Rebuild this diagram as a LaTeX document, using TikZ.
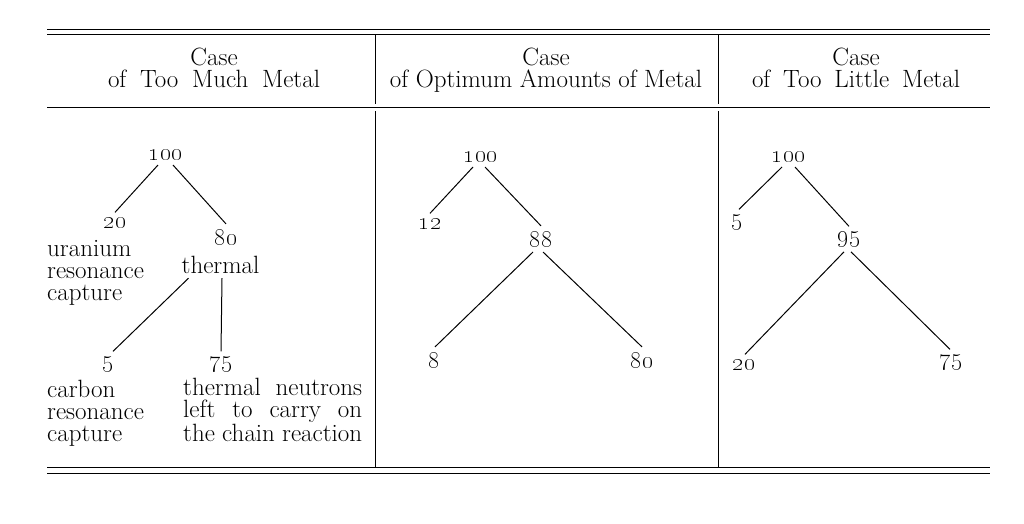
\documentclass[tikz,border=0pt]{standalone}
\begin{document}
\begin{tikzpicture}[x=1pt,y=-1pt,
		txt/.style={font=\fontsize{25}{22}\selectfont, inner sep=0pt},
		num/.style={font=\fontsize{24.88}{22}\selectfont, inner sep=0pt, anchor=base, outer sep=5pt},
		lbl/.style={txt, anchor=base west, align=left},
		head/.style={txt, anchor=base, align=center},
		rule/.style={line width=1pt},
		branch/.style={line width=1pt}]
		\useasboundingbox (0,0) rectangle (1024,523);
		% table rules
		\foreach \y in {29, 34, 107, 467, 473} {
			\draw[rule] (47,\y) -- (990,\y);
		}
		\foreach \x in {375, 718} {
			\draw[rule] (\x,34) -- (\x,104);
			\draw[rule] (\x,111) -- (\x,467);
		}
		% headings (base = last line)
		\node[head] (headA) at (214,87) {Case\\\makebox[212pt][s]{of Too Much Metal}};
		\node[head] (headB) at (546,87) {Case\\of Optimum Amounts of Metal};
		\node[head] (headC) at (856,87) {Case\\\makebox[208pt][s]{of Too Little Metal}};
		% too much metal
		\node[num] (aTop) at (166,160) {\oldstylenums{100}};
		\node[num] (aLeft) at (115,228) {\oldstylenums{20}};
		\node[num] (aRight) at (226,245) {\oldstylenums{80}};
		\node[txt, anchor=base, outer sep=5pt] (aThermal) at (220.5,273) {thermal};
		\node[num] (aCarbon) at (108,367) {\oldstylenums{5}};
		\node[num] (aLeftover) at (221,367) {\oldstylenums{75}};
		\node[lbl] (aUranium) at (47,300) {uranium\\resonance\\capture};
		\node[lbl] (aResonance) at (47,441) {carbon\\resonance\\capture};
		\node[lbl] (aChain) at (183,441) {\makebox[179pt][s]{thermal neutrons}\\\makebox[179pt][s]{left to carry on}\\\makebox[179pt][s]{the chain reaction}};
		% optimum amounts of metal
		\node[num] (bTop) at (481,162) {\oldstylenums{100}};
		\node[num] (bLeft) at (430,229) {\oldstylenums{12}};
		\node[num] (bMid) at (541,247) {\oldstylenums{88}};
		\node[num] (bCarbon) at (434,368) {\oldstylenums{8}};
		\node[num] (bLeftover) at (642,368) {\oldstylenums{80}};
		% too little metal
		\node[num] (cTop) at (789,162) {\oldstylenums{100}};
		\node[num] (cLeft) at (737,225) {\oldstylenums{5}};
		\node[num] (cMid) at (849,242) {\oldstylenums{95}};
		\node[num] (cCarbon) at (744,370) {\oldstylenums{20}};
		\node[num] (cLeftover) at (951,365) {\oldstylenums{75}};
		% branches
		\foreach \s/\a/\t/\b in {aTop/-8/aLeft/0, aTop/7/aRight/0, aThermal/-32/aCarbon/5, aThermal/1.5/aLeftover/0,
			bTop/-8/bLeft/0, bTop/4/bMid/0, bMid/-8/bCarbon/1, bMid/2/bLeftover/0,
			cTop/-7/cLeft/2, cTop/6/cMid/0, cMid/-5/cCarbon/1, cMid/2/cLeftover/-1} {
			\draw[branch] ([xshift=\a pt]\s.south) -- ([xshift=\b pt]\t.north);
		}
	\end{tikzpicture}
\end{document}
